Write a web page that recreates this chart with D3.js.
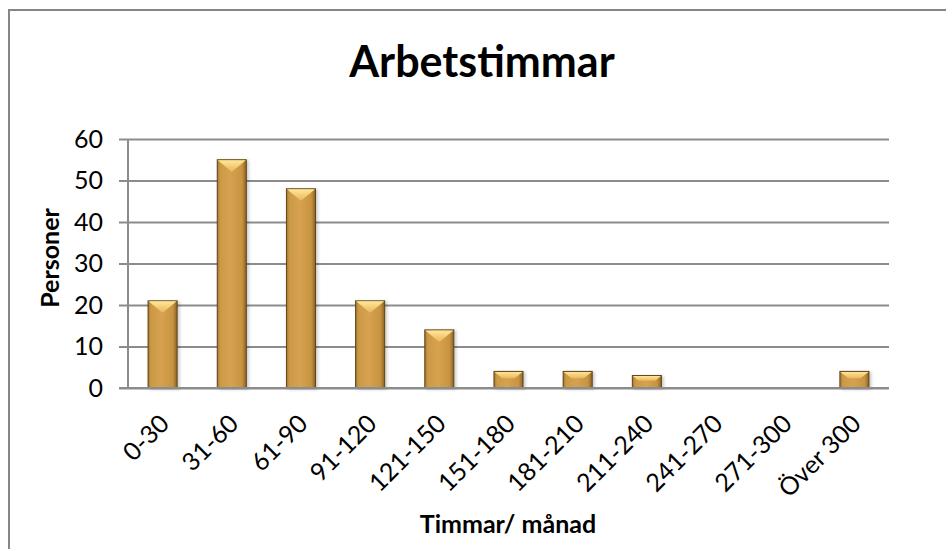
<!DOCTYPE html>
<html lang="sv">
<head>
    <meta charset="utf-8">
    <title>Arbetstimmar</title>
    <script type="text/javascript" src="https://cdn.jsdelivr.net/npm/d3@7"></script>
    <style type="text/css">
        body { margin: 0; background: #fff; }
        text { font-family: Lato, "Open Sans", sans-serif; fill: #000; }
    </style>
</head>
<body>
    <script type="text/javascript">

        //Data
        var categories = ["0-30", "31-60", "61-90", "91-120", "121-150", "151-180",
                          "181-210", "211-240", "241-270", "271-300", "Över 300"];
        var personer = [21, 55, 48, 21, 14, 4, 4, 3, 0, 0, 4];
        var yTicks = [0, 10, 20, 30, 40, 50, 60];

        //Width and height
        var w = 946;
        var h = 549;
        var plot = { left: 128, right: 889, top: 139, bottom: 388 };

        var svg = d3.select("body")
                    .append("svg")
                    .attr("width", w)
                    .attr("height", h);

        //Gradients for the bars
        var defs = svg.append("defs");
        var body = defs.append("linearGradient").attr("id", "barBody")
                       .attr("x1", "0").attr("x2", "1").attr("y1", "0").attr("y2", "0");
        [["0%", "#a3752f"], ["10%", "#cc9946"], ["45%", "#d6a250"], ["85%", "#c99441"], ["100%", "#8c6325"]]
            .forEach(function(s) { body.append("stop").attr("offset", s[0]).attr("stop-color", s[1]); });

        var bevel = defs.append("linearGradient").attr("id", "barBevel")
                        .attr("x1", "0").attr("x2", "0").attr("y1", "0").attr("y2", "1");
        [["0%", "#ffe79a"], ["100%", "#eab55a"]]
            .forEach(function(s) { bevel.append("stop").attr("offset", s[0]).attr("stop-color", s[1]); });

        var shadow = defs.append("filter").attr("id", "shadow")
                         .attr("x", "-30%").attr("y", "-10%").attr("width", "160%").attr("height", "130%");
        shadow.append("feDropShadow").attr("dx", 2).attr("dy", 1).attr("stdDeviation", 1.5)
              .attr("flood-color", "#000").attr("flood-opacity", 0.2);

        //Outer chart frame
        svg.append("path")
           .attr("d", "M9,549 L9,10 L946,10")
           .attr("fill", "none")
           .attr("stroke", "#868686")
           .attr("stroke-width", 2);

        //Scales
        var x = d3.scaleBand()
                  .domain(categories)
                  .range([plot.left, plot.right])
                  .paddingInner(0.58)
                  .paddingOuter(0.29);

        var y = d3.scaleLinear()
                  .domain([0, 60])
                  .range([plot.bottom, plot.top]);

        //Gridlines and y axis
        var yAxis = d3.axisLeft(y)
                      .tickValues(yTicks)
                      .tickSize(-(plot.right - plot.left))
                      .tickPadding(25);

        var gy = svg.append("g")
                    .attr("transform", "translate(" + plot.left + ",0)")
                    .call(yAxis);
        gy.select(".domain").remove();
        gy.selectAll(".tick line")
          .attr("x1", -9)
          .attr("stroke", "#8c8c8c")
          .attr("stroke-width", 2);
        gy.selectAll(".tick text")
          .attr("font-size", 25)
          .attr("font-family", "Lato, sans-serif")
          .attr("fill", "#000");
        gy.append("line")
          .attr("x1", 0).attr("x2", 0)
          .attr("y1", y(60)).attr("y2", y(0))
          .attr("stroke", "#8c8c8c")
          .attr("stroke-width", 2);

        //Bars
        var bars = svg.append("g")
                      .selectAll("g")
                      .data(personer.map(function(v, i) { return { cat: categories[i], value: v }; })
                                    .filter(function(d) { return d.value > 0; }))
                      .enter()
                      .append("g");

        bars.append("rect")
            .attr("x", function(d) { return x(d.cat); })
            .attr("y", function(d) { return y(d.value); })
            .attr("width", x.bandwidth())
            .attr("height", function(d) { return y(0) - y(d.value); })
            .attr("fill", "url(#barBody)")
            .attr("stroke", "#5e4418")
            .attr("stroke-width", 1)
            .attr("filter", "url(#shadow)");

        //Bevelled top of each bar
        bars.append("path")
            .attr("d", function(d) {
                var x0 = x(d.cat), bw = x.bandwidth(), top = y(d.value);
                var depth = Math.min(12, (y(0) - top) * 0.42);
                var inset = Math.min(bw / 2, depth * 1.2);
                return "M" + (x0 + 0.5) + "," + (top + 0.5) +
                       "L" + (x0 + bw - 0.5) + "," + (top + 0.5) +
                       "L" + (x0 + bw - inset) + "," + (top + depth) +
                       "L" + (x0 + inset) + "," + (top + depth) + "Z";
            })
            .attr("fill", "url(#barBevel)");

        //Baseline on top of bars
        svg.append("line")
           .attr("x1", plot.left - 9).attr("x2", plot.right)
           .attr("y1", y(0)).attr("y2", y(0))
           .attr("stroke", "#8c8c8c")
           .attr("stroke-width", 2);

        //X axis labels
        var xAxis = d3.axisBottom(x).tickSize(0).tickPadding(0);
        var gx = svg.append("g")
                    .attr("transform", "translate(0," + plot.bottom + ")")
                    .call(xAxis);
        gx.select(".domain").remove();
        gx.selectAll(".tick text")
          .attr("font-size", 25)
          .attr("font-family", "Lato, sans-serif")
          .attr("fill", "#000")
          .attr("text-anchor", "end")
          .attr("dy", "0.35em")
          .attr("transform", "translate(2,31) rotate(-45)");

        //Titles
        svg.append("text")
           .attr("x", 482)
           .attr("y", 77)
           .attr("text-anchor", "middle")
           .attr("font-size", 43)
           .attr("font-weight", "bold")
           .text("Arbetstimmar");

        svg.append("text")
           .attr("transform", "translate(59,258) rotate(-90)")
           .attr("text-anchor", "middle")
           .attr("font-size", 25)
           .attr("font-weight", "bold")
           .text("Personer");

        svg.append("text")
           .attr("x", 508)
           .attr("y", 533)
           .attr("text-anchor", "middle")
           .attr("font-size", 25)
           .attr("font-weight", "bold")
           .text("Timmar/ månad");

    </script>
</body>
</html>
